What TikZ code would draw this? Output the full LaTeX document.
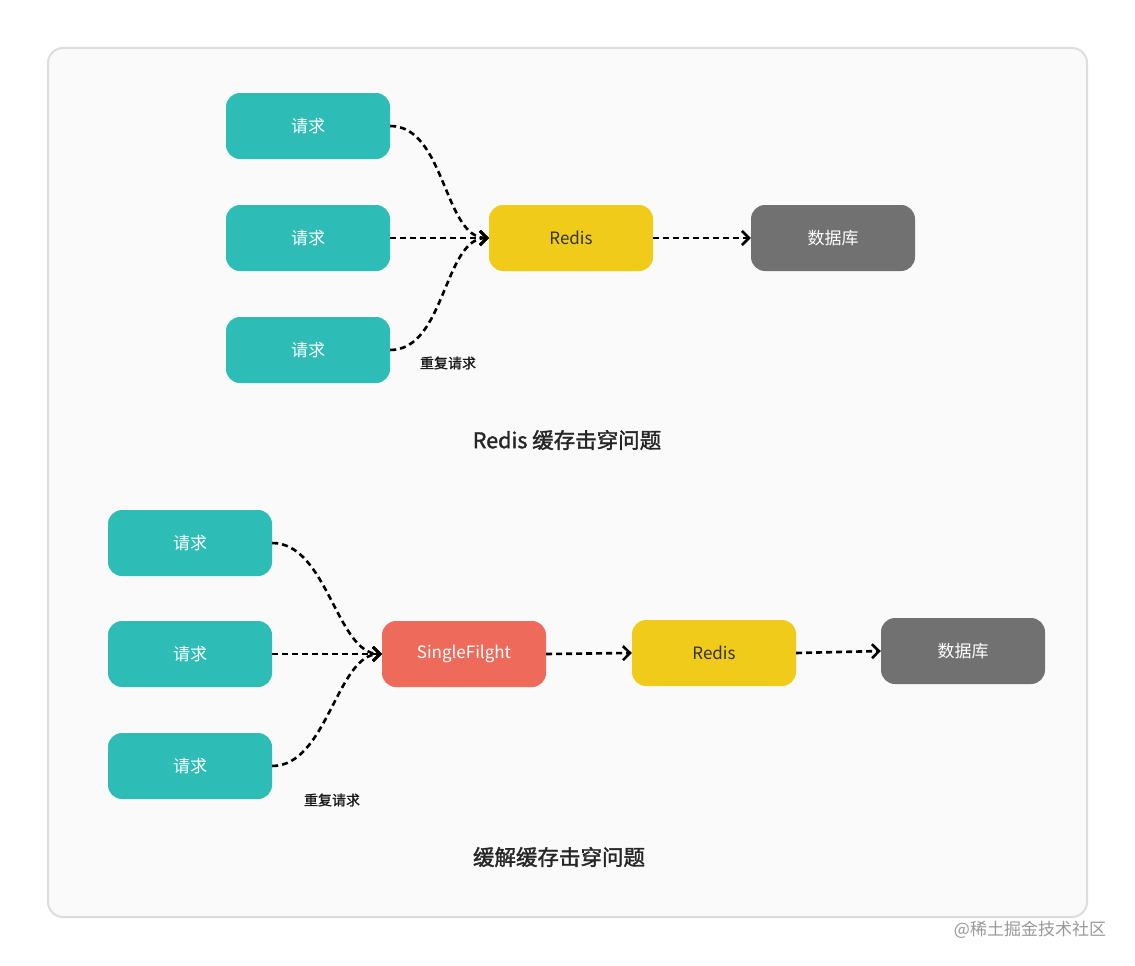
\documentclass[tikz,border=0pt]{standalone}
\usepackage{fontspec}
\setmainfont{Noto Sans CJK SC}
\newfontfamily\medfont{Noto Sans CJK SC}[FakeBold=1.6]
\newfontfamily\notefont{Noto Sans CJK SC}[FakeBold=0.9]
\usetikzlibrary{arrows.meta}
\definecolor{teal1}{HTML}{2EBDB6}
\definecolor{yel}{HTML}{F0CB1A}
\definecolor{gry}{HTML}{717171}
\definecolor{sal}{HTML}{EE6B5B}
\definecolor{frameb}{HTML}{DDDDDD}
\definecolor{framef}{HTML}{FAFAFA}
\tikzset{
  box/.style={rounded corners=14pt, minimum width=164pt, minimum height=66pt, inner sep=0pt,
    font=\fontsize{17}{20}\selectfont, text=white},
  req/.style={box, fill=teal1},
  redisbox/.style={box, fill=yel, text=black!80},
  dbbox/.style={box, fill=gry},
  sfbox/.style={box, fill=sal},
  conn/.style={draw=black, line width=2.6pt, dash pattern=on 6pt off 4pt,
    -{Straight Barb[length=7pt,width=14pt,line width=2.6pt]}},
  note/.style={font=\fontsize{14}{16}\selectfont\notefont, text=black!90},
  ttl/.style={font=\fontsize{21.5}{25}\selectfont\medfont, text=black!85},
}
\begin{document}
\begin{tikzpicture}[x=1pt,y=-1pt]
\useasboundingbox (0,0) rectangle (1135,966);
\fill[white] (0,0) rectangle (1135,966);
\draw[frameb, fill=framef, line width=2pt, rounded corners=15pt] (48,48) rectangle (1087,917);
% top
\node[req] (r1) at (308,126) {请求};
\node[req] (r2) at (308,238) {请求};
\node[req] (r3) at (308,350) {请求};
\node[redisbox] (redis1) at (571,238) {Redis};
\node[dbbox] (db1) at (833,238) {数据库};
\draw[conn] (r1.east) .. controls +(55,0) and +(-45,0) .. (redis1.west);
\draw[conn] (r2.east) -- (redis1.west);
\draw[conn] (r3.east) .. controls +(55,0) and +(-45,0) .. (redis1.west);
\draw[conn] (redis1.east) -- (db1.west);
\node[note] (n1) at (448,363) {重复请求};
\node[ttl] (t1) at (567,440) {Redis 缓存击穿问题};
% bottom
\node[req] (q1) at (190,543) {请求};
\node[req] (q2) at (190,654) {请求};
\node[req] (q3) at (190,766) {请求};
\node[sfbox] (sf) at (464,654) {SingleFilght};
\node[redisbox] (redis2) at (714,653) {Redis};
\node[dbbox] (db2) at (963,651) {数据库};
\draw[conn] (q1.east) .. controls +(55,0) and +(-45,0) .. (sf.west);
\draw[conn] (q2.east) -- (sf.west);
\draw[conn] (q3.east) .. controls +(55,0) and +(-45,0) .. (sf.west);
\draw[conn] (sf.east) -- (redis2.west);
\draw[conn] (redis2.east) -- (db2.west);
\node[note] (n2) at (332,800) {重复请求};
\node[ttl] (t2) at (559,857) {缓解缓存击穿问题};
\node[font=\fontsize{17}{20}\selectfont, text=black!40] (wm) at (1030,930) {@稀土掘金技术社区};
\end{tikzpicture}
\end{document}
